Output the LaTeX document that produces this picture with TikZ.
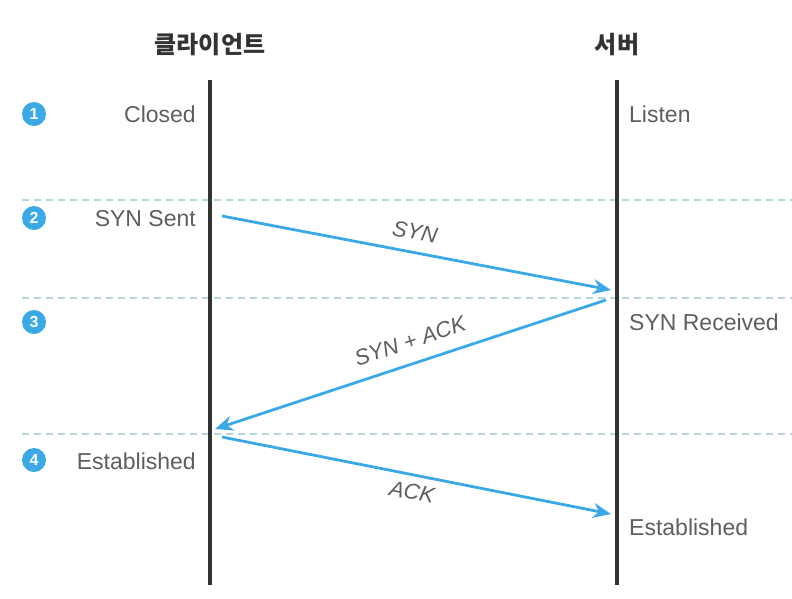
\documentclass[tikz,border=0pt]{standalone}
\usepackage{fontspec}
\setmainfont{Liberation Sans}
\newfontfamily\krfont{Noto Sans CJK KR}
\usetikzlibrary{arrows.meta}
\definecolor{arrowblue}{HTML}{3BA9E6}
\definecolor{dashcol}{HTML}{B4D6DD}
\definecolor{txtgray}{HTML}{5E5E5E}
\definecolor{linegray}{HTML}{333333}
\tikzset{
  lbl/.style={font=\fontsize{23}{25}\selectfont, text=txtgray, inner sep=0pt},
  title/.style={font=\krfont\bfseries\fontsize{24}{26}\selectfont, text=linegray, inner sep=0pt},
  numc/.style={circle, fill=arrowblue, text=white, inner sep=0pt, minimum size=24pt, font=\bfseries\fontsize{16}{16}\selectfont},
  life/.style={draw=linegray, line width=3.5pt},
  sep/.style={draw=dashcol, line width=1.3pt, dash pattern=on 7pt off 5pt},
  msg/.style={draw=arrowblue, line width=2.8pt, -{Stealth[length=18pt, width=15pt]}},
  mlbl/.style={font=\itshape\fontsize{22}{24}\selectfont, text=txtgray, inner sep=0pt}
}
\begin{document}
\begin{tikzpicture}[x=1pt, y=-1pt]
\useasboundingbox (0,0) rectangle (792,598);
% titles
\node[title] (tc) at (210,45) {클라이언트};
\node[title] (ts) at (617,45) {서버};
% lifelines
\coordinate (c0) at (210,80); \coordinate (c1) at (210,585);
\coordinate (s0) at (617,80); \coordinate (s1) at (617,585);
% separators
\coordinate (d1a) at (22,200); \coordinate (d1b) at (792,200);
\coordinate (d2a) at (22,298); \coordinate (d2b) at (792,298);
\coordinate (d3a) at (22,434); \coordinate (d3b) at (792,434);
\draw[sep] (d1a) -- (d1b);
\draw[sep] (d2a) -- (d2b);
\draw[sep] (d3a) -- (d3b);
\draw[life] (c0) -- (c1);
\draw[life] (s0) -- (s1);
% numbers
\node[numc] (n1) at (34,114) {1};
\node[numc] (n2) at (34,218) {2};
\node[numc] (n3) at (34,322) {3};
\node[numc] (n4) at (34,460) {4};
% state labels
\node[lbl, anchor=east] (closed) at (196,114) {Closed};
\node[lbl, anchor=west] (listen) at (629,114) {Listen};
\node[lbl, anchor=east] (synsent) at (196,219) {SYN Sent};
\node[lbl, anchor=west] (synrec) at (629,322) {SYN Received};
\node[lbl, anchor=east] (estc) at (196,461) {Established};
\node[lbl, anchor=west] (ests) at (629,527) {Established};
% messages
\coordinate (a1s) at (222,216); \coordinate (a1e) at (611,290);
\coordinate (a2s) at (606,300); \coordinate (a2e) at (215,429);
\coordinate (a3s) at (222,437); \coordinate (a3e) at (611,514);
\draw[msg] (a1s) -- (a1e);
\draw[msg] (a2s) -- (a2e);
\draw[msg] (a3s) -- (a3e);
\node[mlbl, rotate=-10.8] (syn) at (415,232) {SYN};
\node[mlbl, rotate=18.3] (synack) at (410,341) {SYN + ACK};
\node[mlbl, rotate=-11.3] (ack) at (412,492) {ACK};
\end{tikzpicture}
\end{document}
